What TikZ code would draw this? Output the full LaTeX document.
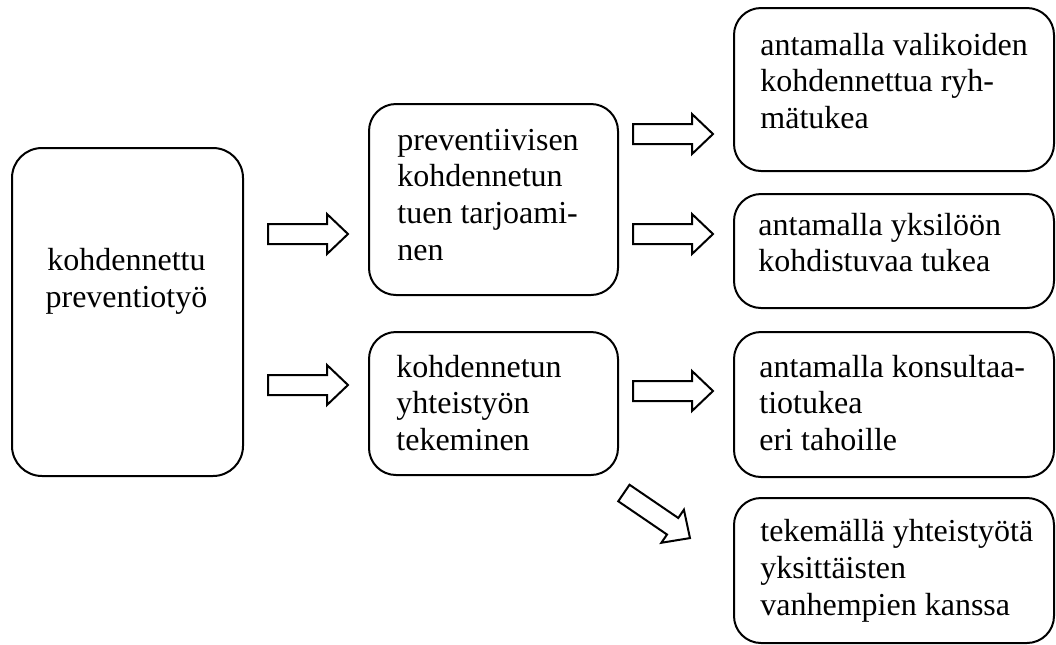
\documentclass[tikz,border=0pt]{standalone}
\usepackage{fontspec}
\setmainfont{Liberation Serif}

\tikzset{
  box/.style={draw, line width=1pt, rounded corners=13.5pt, inner sep=0pt, anchor=north west},
  % multi-line texts are placed by the baseline of their last line
  txt/.style={inner sep=0pt, anchor=base west, align=left,
              font=\fontsize{16}{18.4}\selectfont},
  ctxt/.style={inner sep=0pt, anchor=base, align=center,
               font=\fontsize{16}{18.4}\selectfont},
  blockarrow/.pic={
    \draw[line width=1pt, line join=miter]
      (0,-10) -- (59,-10) -- (59,-20) -- (80,0) -- (59,20) -- (59,10) -- (0,10) -- cycle;
  }
}

\begin{document}
\begin{tikzpicture}[x=0.5pt, y=-0.5pt]
  \useasboundingbox (0,0) rectangle (1056,644);

  % left column
  \node[box, rounded corners=15pt, minimum width=115.5pt, minimum height=164pt] (root) at (11,147) {};
  \node[ctxt] (roott) at (126.5,307) {kohdennettu\\preventiotyö};

  % middle column
  \node[box, minimum width=124.5pt, minimum height=95.5pt] (prev) at (368,103) {};
  \node[txt] (prevt) at (397,260.4) {preventiivisen\\kohdennetun\\tuen tarjoami-\\nen};

  \node[box, minimum width=124.5pt, minimum height=71.5pt] (yht) at (368,331) {};
  \node[txt] (yhtt) at (396,450.6) {kohdennetun\\yhteistyön\\tekeminen};

  % right column
  \node[box, minimum width=160pt, minimum height=81.5pt] (r1) at (733,7) {};
  \node[txt] (r1t) at (760,128.6) {antamalla valikoiden\\kohdennettua ryh-\\mätukea};

  \node[box, minimum width=160pt, minimum height=57pt] (r2) at (733,193) {};
  \node[txt] (r2t) at (758,271.8) {antamalla yksilöön\\kohdistuvaa tukea};

  \node[box, minimum width=160pt, minimum height=72.5pt] (r3) at (733,331) {};
  \node[txt] (r3t) at (759,450.6) {antamalla konsultaa-\\tiotukea\\eri tahoille};

  \node[box, minimum width=160pt, minimum height=72.5pt] (r4) at (733,497) {};
  \node[txt] (r4t) at (760,615) {tekemällä yhteistyötä\\yksittäisten\\vanhempien kanssa};

  % block arrows
  \pic (a1) at (268,234) {blockarrow};
  \pic (a2) at (268,385) {blockarrow};
  \pic (a3) at (633,134) {blockarrow};
  \pic (a4) at (633,234) {blockarrow};
  \pic (a5) at (633,391) {blockarrow};
  \pic[rotate=-34.3] (a6) at (623.9,493) {blockarrow};
\end{tikzpicture}
\end{document}
